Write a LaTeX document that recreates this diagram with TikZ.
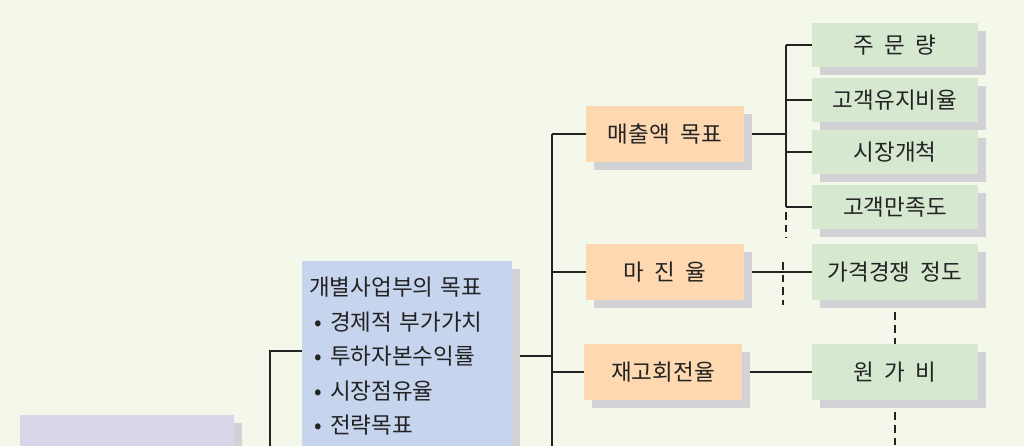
\documentclass[tikz,border=0pt]{standalone}
\usepackage{fontspec}
\setmainfont[WordSpace=2.1]{Noto Sans CJK KR}
\usepackage{tikz}
\usetikzlibrary{positioning,shadows,backgrounds}
\definecolor{bgcol}{RGB}{244,248,235}
\definecolor{peach}{RGB}{253,216,176}
\definecolor{leaf}{RGB}{214,232,208}
\definecolor{sky}{RGB}{198,212,238}
\definecolor{lilac}{RGB}{219,213,234}
\definecolor{shade}{RGB}{210,210,214}
\definecolor{ink}{RGB}{35,35,35}

\begin{document}
\begin{tikzpicture}[x=0.025cm,y=-0.025cm,
  box/.style={general shadow={fill=shade,shadow xshift=0.2cm,shadow yshift=-0.2cm},
    inner sep=0pt,font=\fontsize{16}{19}\selectfont,text=ink},
  goal/.style={box,fill=peach,minimum width=3.95cm,minimum height=1.4cm},
  item/.style={box,fill=leaf,minimum width=4.15cm,minimum height=1.075cm},
  itembig/.style={item,minimum height=1.375cm},
  link/.style={draw=ink,line width=0.8pt},
  dashlink/.style={link,dash pattern=on 5.5pt off 3.5pt}]
\useasboundingbox (0,0) rectangle (1024,446);

\node[box,fill=lilac,anchor=north west,minimum width=5.33cm,minimum height=2cm] (corp) at (20,415) {};
\node[box,fill=sky,anchor=north west,text width=4.9cm,inner xsep=0.175cm,inner ysep=0.4cm,
  align=left,font=\fontsize{16}{24.5}\selectfont] (unit) at (302,261)
  {개별사업부의 목표\\ \hspace{4pt}• 경제적 부가가치\\ \hspace{4pt}• 투하자본수익률\\ \hspace{4pt}• 시장점유율\\ \hspace{4pt}• 전략목표};

\node[goal] (sales) at (665,134) {매출액 목표};
\node[goal] (margin) at (665,272) {마 진 율};
\node[goal] (stock) at (663,372) {재고회전율};

\node[item] (order) at (895,45) {주 문 량};
\node[item] (keep) at (895,100) {고객유지비율};
\node[item] (market) at (895,152) {시장개척};
\node[item] (satis) at (895,207) {고객만족도};
\node[itembig] (price) at (895,272) {가격경쟁 정도};
\node[itembig] (cost) at (895,372) {원 가 비};

\coordinate (root) at (270,470);
\coordinate (trunk) at (552,356);
\coordinate (trunkend) at (552,470);
\coordinate (fork) at (786,134);
\coordinate (forkend) at (786,238);
\coordinate (cut1) at (783,262);
\coordinate (cut2) at (783,305);
\coordinate (costend) at (895,470);

\begin{pgfonlayer}{background}
\fill[bgcol] (0,0) rectangle (1024,446);
\draw[link] (root) |- (unit.west |- 0,351);
\draw[link] (unit.center |- trunk) -- (trunk);
\draw[link] (trunk |- sales) -- (trunkend);
\foreach \n in {sales,margin,stock} \draw[link] (trunk |- \n) -- (\n);
\draw[link] (sales) -- (fork);
\draw[link] (fork |- order) -- (fork |- satis);
\foreach \n in {order,keep,market,satis} \draw[link] (fork |- \n) -- (\n);
\draw[dashlink,dash phase=5.5pt] (fork |- satis) -- (forkend);
\draw[link] (margin) -- (price);
\draw[dashlink] (cut1) -- (cut2);
\draw[link] (stock) -- (cost);
\draw[dashlink] (price) -- (cost);
\draw[dashlink] (cost) -- (costend);
\end{pgfonlayer}
\end{tikzpicture}
\end{document}
